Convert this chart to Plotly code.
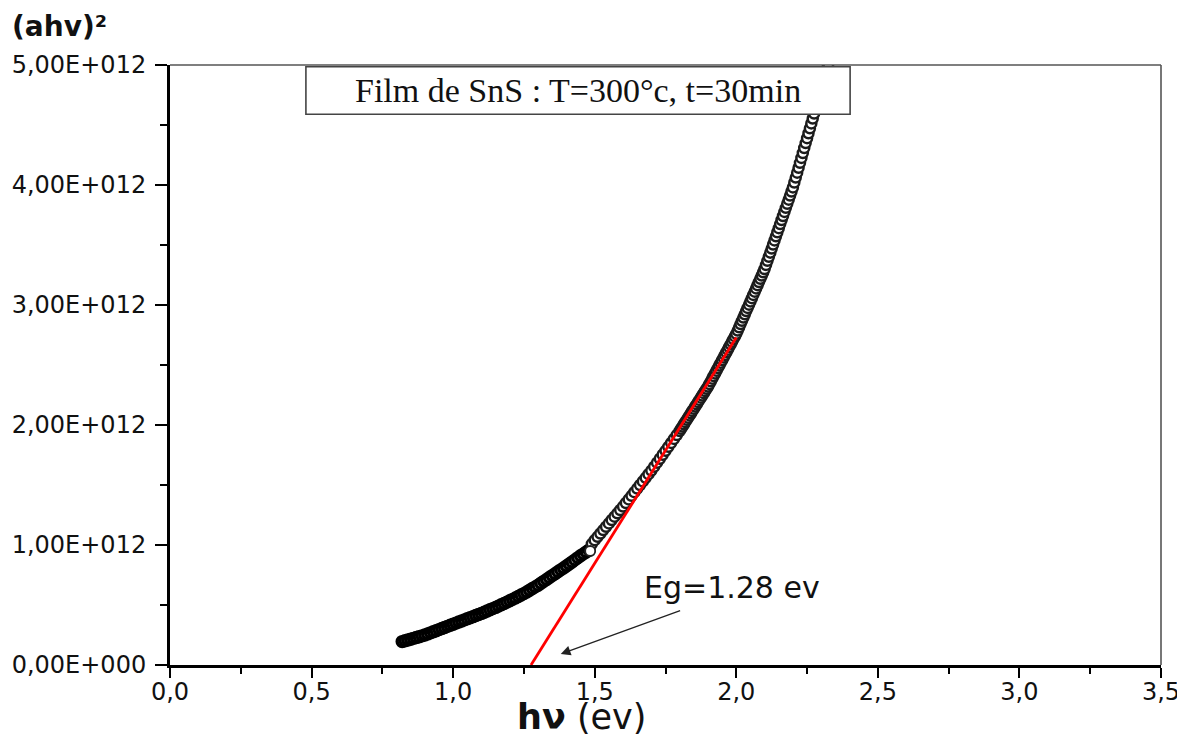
import plotly.graph_objects as go

# ---------------- data ----------------
# photon energy hν (eV) and (αhν)² in units of 1e12
hv_low = [0.82, 0.83, 0.84, 0.85, 0.86, 0.87, 0.88, 0.89, 0.90, 0.91,
          0.92, 0.93, 0.94, 0.95, 0.96, 0.97, 0.98, 0.99, 1.00, 1.01,
          1.02, 1.03, 1.04, 1.05, 1.06, 1.07, 1.08, 1.09, 1.10, 1.11,
          1.12, 1.13, 1.14, 1.15, 1.16, 1.17, 1.18, 1.19, 1.20, 1.21,
          1.22, 1.23, 1.24, 1.25, 1.26, 1.27, 1.28, 1.29, 1.30, 1.31,
          1.32, 1.33, 1.34, 1.35, 1.36, 1.37, 1.38, 1.39, 1.40, 1.41,
          1.42, 1.43, 1.44, 1.45, 1.46, 1.47, 1.48]
ahv2_low = [0.195, 0.202, 0.208, 0.215, 0.222, 0.229, 0.236, 0.243, 0.250, 0.259,
            0.268, 0.277, 0.286, 0.295, 0.304, 0.313, 0.322, 0.331, 0.340, 0.349,
            0.358, 0.367, 0.376, 0.385, 0.394, 0.403, 0.412, 0.421, 0.430, 0.440,
            0.450, 0.460, 0.470, 0.480, 0.491, 0.502, 0.513, 0.524, 0.535, 0.547,
            0.559, 0.571, 0.583, 0.595, 0.609, 0.623, 0.637, 0.651, 0.665, 0.681,
            0.697, 0.713, 0.729, 0.745, 0.761, 0.777, 0.793, 0.809, 0.825, 0.842,
            0.859, 0.876, 0.893, 0.910, 0.926, 0.942, 0.958]

hv_high = [1.49, 1.50, 1.51, 1.52, 1.53, 1.54, 1.55, 1.56, 1.57, 1.58,
           1.59, 1.60, 1.61, 1.62, 1.63, 1.64, 1.65, 1.66, 1.67, 1.68,
           1.69, 1.70, 1.71, 1.72, 1.73, 1.74, 1.75, 1.76, 1.77, 1.78,
           1.79, 1.80,
           1.805, 1.810, 1.815, 1.820, 1.825, 1.830, 1.835, 1.840, 1.845, 1.850,
           1.855, 1.860, 1.865, 1.870, 1.875, 1.880, 1.885, 1.890, 1.895, 1.900,
           1.905, 1.910, 1.915, 1.920, 1.925, 1.930, 1.935, 1.940, 1.945, 1.950,
           1.955, 1.960, 1.965, 1.970, 1.975, 1.980, 1.985, 1.990, 1.995, 2.000,
           2.005, 2.010, 2.015, 2.020, 2.025, 2.030, 2.035, 2.040, 2.045, 2.050,
           2.055, 2.060, 2.065, 2.070, 2.075, 2.080, 2.085, 2.090, 2.095, 2.100,
           2.105, 2.110, 2.115, 2.120, 2.125, 2.130, 2.135, 2.140, 2.145, 2.150,
           2.155, 2.160, 2.165, 2.170, 2.175, 2.180, 2.185, 2.190, 2.195, 2.200,
           2.205, 2.210, 2.215, 2.220, 2.225, 2.230, 2.235, 2.240, 2.245, 2.250,
           2.255, 2.260, 2.265, 2.270, 2.275, 2.280, 2.285, 2.290, 2.295, 2.300,
           2.305, 2.310, 2.315, 2.320, 2.325]
ahv2_high = [1.010, 1.040, 1.068, 1.096, 1.124, 1.152, 1.180, 1.208, 1.236, 1.264,
             1.292, 1.320, 1.350, 1.380, 1.410, 1.440, 1.470, 1.500, 1.530, 1.560,
             1.590, 1.620, 1.653, 1.686, 1.719, 1.752, 1.785, 1.818, 1.851, 1.884,
             1.917, 1.950,
             1.969, 1.987, 2.006, 2.024, 2.043, 2.061, 2.080, 2.098, 2.117, 2.135,
             2.154, 2.172, 2.191, 2.209, 2.228, 2.246, 2.265, 2.283, 2.302, 2.320,
             2.342, 2.364, 2.386, 2.408, 2.430, 2.452, 2.474, 2.496, 2.518, 2.540,
             2.562, 2.584, 2.606, 2.628, 2.650, 2.672, 2.694, 2.716, 2.738, 2.760,
             2.787, 2.814, 2.841, 2.868, 2.895, 2.922, 2.949, 2.976, 3.003, 3.030,
             3.057, 3.084, 3.111, 3.138, 3.165, 3.192, 3.219, 3.246, 3.273, 3.300,
             3.334, 3.368, 3.402, 3.436, 3.470, 3.504, 3.538, 3.572, 3.606, 3.640,
             3.674, 3.708, 3.742, 3.776, 3.810, 3.844, 3.878, 3.912, 3.946, 3.980,
             4.021, 4.062, 4.103, 4.144, 4.185, 4.226, 4.267, 4.308, 4.349, 4.390,
             4.431, 4.472, 4.513, 4.554, 4.595, 4.636, 4.677, 4.718, 4.759, 4.800,
             4.842, 4.884, 4.926, 4.968, 5.010]

hv_join = [1.484]
ahv2_join = [0.950]

# linear fit (tangent) used for the band gap extrapolation
fit_hv = [1.275, 2.00]
fit_ahv2 = [0.0, 2.73]
eg_label = "Eg=1.28 ev"
box_label = "Film de SnS : T=300°c, t=30min"

y_tickvals = [0, 1, 2, 3, 4, 5]
y_ticktext = ["0,00E+000", "1,00E+012", "2,00E+012", "3,00E+012", "4,00E+012", "5,00E+012"]
x_tickvals = [0.0, 0.5, 1.0, 1.5, 2.0, 2.5, 3.0, 3.5]
x_ticktext = ["0,0", "0,5", "1,0", "1,5", "2,0", "2,5", "3,0", "3,5"]

E12 = 1e12

def sc(v):
    return [a * E12 for a in v]

fig = go.Figure()

fig.add_trace(go.Scatter(
    x=hv_low, y=sc(ahv2_low), mode="markers",
    marker=dict(symbol="circle", size=10, color="white",
                line=dict(color="black", width=3.4)),
    showlegend=False))
fig.add_trace(go.Scatter(
    x=hv_high, y=sc(ahv2_high), mode="markers",
    marker=dict(symbol="circle", size=10, color="white",
                line=dict(color="#1c1c1c", width=2.5)),
    showlegend=False))
fig.add_trace(go.Scatter(
    x=hv_join, y=sc(ahv2_join), mode="markers",
    marker=dict(symbol="circle", size=10, color="white",
                line=dict(color="#222222", width=1.8)),
    showlegend=False))
fig.add_trace(go.Scatter(
    x=fit_hv, y=sc(fit_ahv2), mode="lines",
    line=dict(color="#ff0000", width=2.8),
    showlegend=False))

font_main = "DejaVu Sans"

fig.update_xaxes(
    range=[0, 3.5], tickvals=x_tickvals, ticktext=x_ticktext,
    showline=True, linewidth=3, linecolor="black", mirror=False,
    ticks="outside", ticklen=10, tickwidth=2, tickcolor="black",
    minor=dict(ticks="outside", ticklen=6, tickwidth=2, tickcolor="black",
               dtick=0.25, tick0=0, showgrid=False),
    showgrid=False, zeroline=False, automargin=False,
    tickfont=dict(family=font_main, size=24, color="#111111"),
    ticklabelstandoff=-7)
fig.update_yaxes(
    range=[0, 5 * E12], tickvals=sc(y_tickvals), ticktext=y_ticktext,
    showline=True, linewidth=3, linecolor="black", mirror=False,
    ticks="outside", ticklen=12, tickwidth=2, tickcolor="black",
    minor=dict(ticks="outside", ticklen=7, tickwidth=2, tickcolor="black",
               dtick=0.5 * E12, tick0=0, showgrid=False),
    showgrid=False, zeroline=False, automargin=False,
    tickfont=dict(family=font_main, size=24, color="#111111"),
    ticklabelstandoff=4)

shapes = [
    # thin top and right frame lines
    dict(type="line", xref="paper", yref="paper", x0=0, x1=1, y0=1, y1=1,
         line=dict(color="#555555", width=1.6), layer="above"),
    dict(type="line", xref="paper", yref="paper", x0=1, x1=1, y0=0, y1=1,
         line=dict(color="#555555", width=1.6), layer="above"),
    # label box
    dict(type="rect", xref="x", yref="y", x0=0.480, x1=2.402,
         y0=4.59 * E12, y1=4.985 * E12,
         line=dict(color="#444444", width=1.6), fillcolor="white", layer="above"),
]

annotations = [
    dict(x=1.441, y=4.79 * E12, xref="x", yref="y", text=box_label,
         showarrow=False, font=dict(family="Liberation Serif", size=34, color="#111111"),
         xanchor="center", yanchor="middle"),
    dict(x=1.985, y=0.642 * E12, xref="x", yref="y", text=eg_label,
         showarrow=False, font=dict(family=font_main, size=30, color="#111111"),
         xanchor="center", yanchor="middle"),
    dict(x=1.380, y=0.092 * E12, ax=1.807, ay=0.458 * E12,
         xref="x", yref="y", axref="x", ayref="y", text="",
         showarrow=True, arrowhead=2, arrowsize=1.5, arrowwidth=1.3,
         arrowcolor="#222222", standoff=0),
    dict(x=-0.1615, y=1.064, xref="paper", yref="paper", text="<b>(ahv)²</b>",
         showarrow=False, font=dict(family=font_main, size=28, color="#111111"),
         xanchor="left", yanchor="middle"),
    dict(x=1.452, y=-0.0867, xref="x", yref="paper", text="<b>hν</b> (ev)",
         showarrow=False, font=dict(family=font_main, size=35, color="#111111"),
         xanchor="center", yanchor="middle"),
]

# the page body adds an 8px offset, so the figure is sized/margined to compensate
fig.update_layout(
    width=1177, height=732, autosize=False,
    margin=dict(l=162, r=24, t=57, b=75, autoexpand=False),
    paper_bgcolor="white", plot_bgcolor="white",
    shapes=shapes, annotations=annotations,
    showlegend=False)

fig.write_html("out.html")
